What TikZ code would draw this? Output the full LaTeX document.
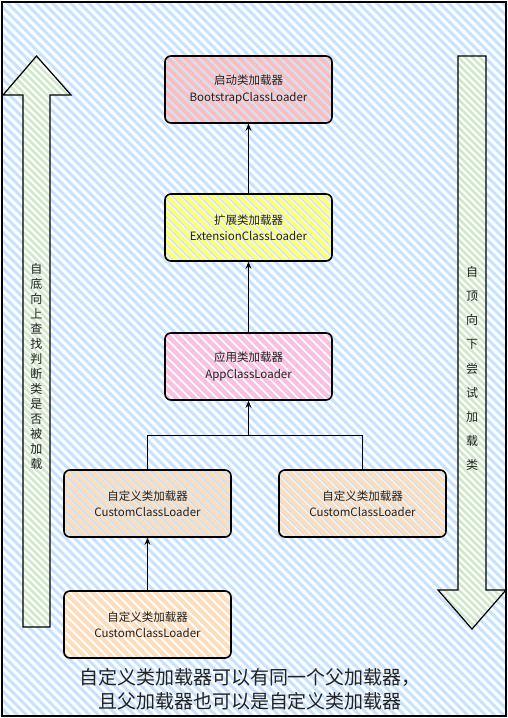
\documentclass[tikz,border=0pt]{standalone}
\usepackage{fontspec}
\newfontfamily\cjk{Noto Sans CJK SC}
\usetikzlibrary{arrows.meta}
\definecolor{bgblue}{HTML}{C8E2FF}
\definecolor{pinkA}{HTML}{FFBDBD}
\definecolor{yel}{HTML}{FFFF80}
\definecolor{pinkB}{HTML}{FFBFDF}
\definecolor{orangeA}{HTML}{FFDDBD}
\definecolor{greenA}{HTML}{D2E8CC}
\definecolor{txt}{HTML}{222222}
\tikzset{
  loader/.style={draw=black, line width=1.6pt, rounded corners=6pt,
    minimum width=167pt, minimum height=67pt, align=center, inner sep=0pt,
    font=\cjk\fontsize{11.5}{16.5}\selectfont, text=txt},
  hatch/.style={path picture={
    \foreach \i in {-90,-81,...,180}
      \draw[line width=4pt,#1] ([xshift=\i pt]path picture bounding box.north west) -- ++(90,90);}},
  arrowhatch/.style={fill=white, path picture={
    \foreach \i in {-590,-583,...,80}
      \draw[line width=2.8pt,greenA] ([xshift=\i pt]path picture bounding box.north west) -- ++(590,590);}},
  link/.style={draw=black, line width=0.8pt},
  tipped/.style={-{Stealth[length=7pt,width=6pt]}},
  vtext/.style={align=center, text=txt, inner sep=0pt},
  blockarrow/.style={draw=black, line width=1.2pt, line join=miter}
}
\begin{document}
\begin{tikzpicture}[x=1pt,y=-1pt]
\useasboundingbox (0,0) rectangle (508,718);
% frame background
\fill[bgblue] (2,2) rectangle (506,716);
\begin{scope}
  \clip (2,2) rectangle (506,716);
  \foreach \i in {-720,-711,...,510}
    \draw[white,line width=3pt] (\i,0) -- ++(720,720);
\end{scope}
\draw[line width=2pt] (2,2) rectangle (506,716);

% block arrows
\path[blockarrow, arrowhatch] (36.5,56) -- (71,95) -- (50,95) -- (50,627) -- (23,627) -- (23,95) -- (3,95) -- cycle;
\path[blockarrow, arrowhatch] (458,56) -- (486,56) -- (486,590) -- (506,590) -- (472,629) -- (438,590) -- (458,590) -- cycle;

\node[vtext, font=\cjk\fontsize{12}{15}\selectfont] (lefttext) at (36.5,366)
  {自\\底\\向\\上\\查\\找\\判\\断\\类\\是\\否\\被\\加\\载};
\node[vtext, font=\cjk\fontsize{12}{24.1}\selectfont] (righttext) at (472,368.5)
  {自\\顶\\向\\下\\尝\\试\\加\\载\\类};

% loaders
\node[loader, hatch=pinkA] (boot) at (248.5,89.5) {启动类加载器\\BootstrapClassLoader};
\node[loader, hatch=yel] (ext) at (248.5,227.5) {扩展类加载器\\ExtensionClassLoader};
\node[loader, hatch=pinkB] (app) at (248.5,366.5) {应用类加载器\\AppClassLoader};
\node[loader, hatch=orangeA] (c1) at (147.5,503.5) {自定义类加载器\\CustomClassLoader};
\node[loader, hatch=orangeA] (c2) at (362.5,503.5) {自定义类加载器\\CustomClassLoader};
\node[loader, hatch=orangeA] (c3) at (147.5,624.5) {自定义类加载器\\CustomClassLoader};

% connectors
\draw[link,tipped] (ext.north) -- (boot.south);
\draw[link,tipped] (app.north) -- (ext.south);
\coordinate (j) at (248.5,435);
\draw[link] (c1.north) -- (c1.north |- j) -- (c2.north |- j) -- (c2.north);
\draw[link,tipped] (j) -- (app.south);
\draw[link,tipped] (c3.north) -- (c1.south);

% caption
\node[vtext, font=\cjk\fontsize{19}{24}\selectfont] (caption) at (250,689)
  {自定义类加载器可以有同一个父加载器，\\且父加载器也可以是自定义类加载器};
\end{tikzpicture}
\end{document}
